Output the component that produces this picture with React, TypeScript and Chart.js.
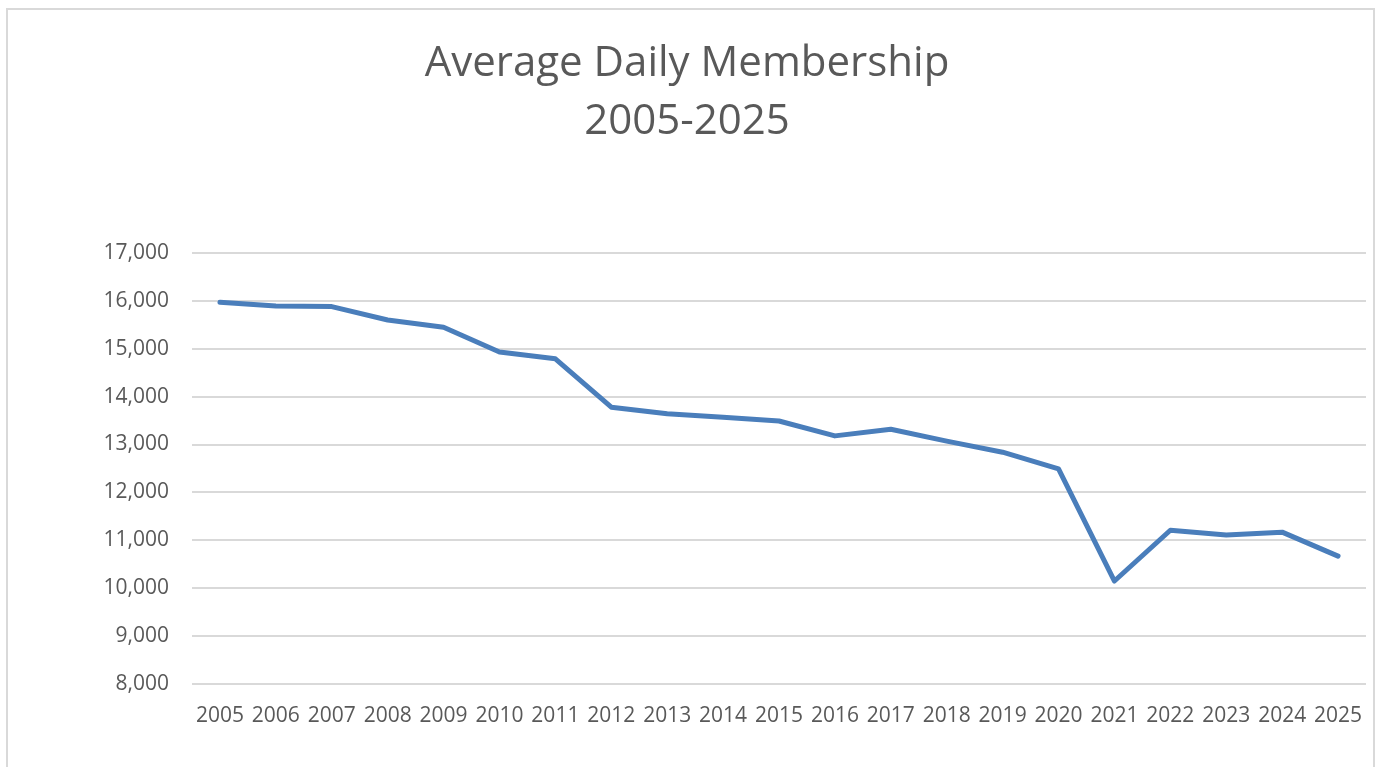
import React, { useEffect, useRef } from "react";
import { Chart, registerables } from "chart.js";

Chart.register(...registerables);

const years = ["2005","2006","2007","2008","2009","2010","2011","2012","2013","2014","2015","2016","2017","2018","2019","2020","2021","2022","2023","2024","2025"];
const membership = [15970,15890,15880,15600,15450,14930,14790,13780,13640,13570,13490,13180,13320,13070,12840,12490,10150,11210,11110,11170,10670];
const titleLines = ["Average Daily Membership", "2005-2025"];
const yMin = 8000;
const yMax = 17000;
const yStep = 1000;

export default function App() {
  const ref = useRef<HTMLCanvasElement | null>(null);
  useEffect(() => {
    if (!ref.current) return;
    const chart = new Chart(ref.current, {
      type: "line",
      data: {
        labels: years,
        datasets: [
          {
            data: membership,
            borderColor: "#4a7ebb",
            backgroundColor: "#4a7ebb",
            borderWidth: 5,
            pointRadius: 0,
            tension: 0,
            borderCapStyle: "round",
            borderJoinStyle: "round",
          },
        ],
      },
      options: {
        animation: false,
        responsive: false,
        maintainAspectRatio: false,
        layout: { padding: { left: 0, right: 7, top: 0, bottom: 0 } },
        plugins: {
          legend: { display: false },
          tooltip: { enabled: false },
          title: {
            display: true,
            text: titleLines,
            color: "#595959",
            font: { family: "'Open Sans', sans-serif", size: 42, weight: "normal", lineHeight: 1.38 },
            padding: { top: 25, bottom: 102 },
          },
        },
        scales: {
          x: {
            offset: true,
            grid: { display: false, drawTicks: false },
            border: { display: false },
            ticks: {
              color: "#595959",
              font: { family: "'Open Sans', sans-serif", size: 21 },
              padding: 19,
              maxRotation: 0,
              autoSkip: false,
            },
            afterFit: (s: any) => {
              s.height = 102;
              s.paddingLeft = 0;
              s.paddingRight = 0;
            },
          },
          y: {
            min: yMin,
            max: yMax,
            grid: { color: "#d9d9d9", lineWidth: 2, drawTicks: false },
            border: { display: false },
            ticks: {
              stepSize: yStep,
              color: "#595959",
              font: { family: "'Open Sans', sans-serif", size: 21 },
              padding: 23,
              callback: (v: any) => Number(v).toLocaleString("en-US"),
            },
            afterFit: (s: any) => { s.width = 184; },
          },
        },
      },
    });
    return () => chart.destroy();
  }, []);
  return (
    <div
      style={{
        position: "absolute",
        left: 6,
        top: 8,
        width: 1369,
        height: 780,
        border: "2px solid #d9d9d9",
        boxSizing: "border-box",
        background: "#fff",
      }}
    >
      <canvas ref={ref} width={1365} height={776} style={{ display: "block" }} />
    </div>
  );
}
